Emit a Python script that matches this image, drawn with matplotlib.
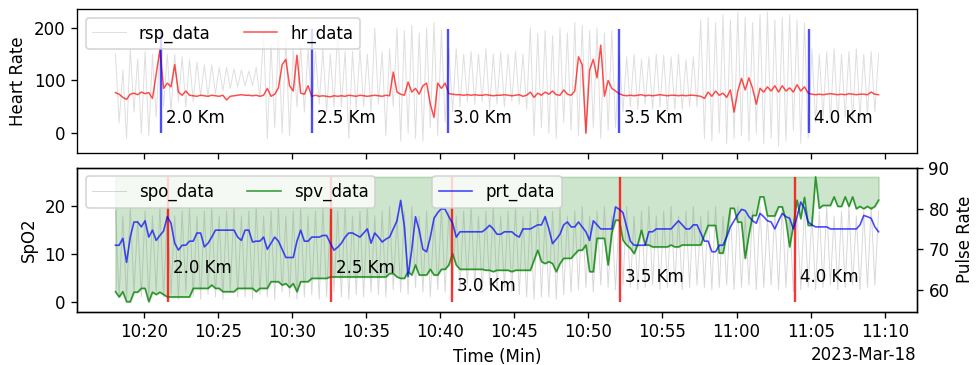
import matplotlib
matplotlib.use('Agg')
import matplotlib.pyplot as plt
import matplotlib.dates as mdates
import pandas as pd

# samples every 15 s, one row per minute (10:18 ... 11:09)
start_time = '2023-03-18 10:18:05'

hr_data = [
    77, 74, 68, 64,  74, 76, 73, 78,  75, 77, 66, 112,  158, 85, 95, 88,
    130, 78, 72, 80,  72, 71, 70, 72,  71, 70, 72, 71,  70, 72, 63, 70,
    71, 72, 73, 72,  72, 71, 72, 70,  72, 85, 70, 74,  86, 130, 140, 90,
    80, 148, 76, 74,  90, 70, 72, 70,  71, 70, 69, 71,  70, 71, 70, 72,
    71, 70, 72, 71,  70, 71, 72, 71,  70, 72, 71, 116,  78, 74, 72, 97,
    78, 85, 74, 90,  95, 55, 30, 95,  85, 95, 75, 74,  73, 73, 72, 73,
    72, 73, 72, 72,  73, 72, 71, 72,  72, 73, 72, 71,  72, 73, 70, 72,
    78, 68, 76, 72,  78, 74, 80, 73,  72, 82, 74, 72,  80, 145, 130, 0,
    120, 140, 105, 167,  70, 100, 85, 80,  75, 72, 71, 72,  71, 72, 73, 71,
    72, 71, 72, 73,  72, 71, 72, 72,  71, 72, 71, 72,  72, 71, 70, 66,
    78, 70, 80, 72,  76, 68, 82, 40,  80, 104, 82, 105,  85, 55, 85, 78,
    88, 80, 90, 78,  90, 80, 86, 78,  92, 80, 88, 76,  74, 73, 74, 73,
    74, 75, 74, 73,  74, 73, 75, 74,  73, 74, 74, 73,  78, 74, 73,
]

rsp_data = [
    150, 20, 120, -10,  160, 40, 140, 0,  155, -5, 150, 30,  165, 50, 150, 40,
    150, 60, 145, 50,  140, 60, 135, 70,  130, 70, 130, 75,  125, 80, 125, 85,
    122, 88, 120, 90,  118, 90, 125, 70,  190, -10, 170, 10,  185, 0, 180, -5,
    160, 50, 165, 40,  160, 45, 155, 55,  160, 40, 150, 50,  200, 50, 155, -10,
    155, 45, 160, 50,  150, 40, 200, 55,  155, -5, 160, 50,  200, -15, 195, 0,
    205, -10, 190, -15,  200, 10, 210, -5,  195, 20, 160, 40,  160, 50, 150, 60,
    155, 55, 150, 60,  160, 45, 150, 55,  155, 50, 150, 60,  155, 55, 150, 45,
    200, -5, 190, 10,  195, 0, 185, -10,  200, 20, 190, 5,  210, -5, 205, 0,
    195, 10, 200, -10,  190, 5, 195, 10,  150, 40, 145, 50,  150, 45, 140, 55,
    145, 45, 150, 50,  148, 40, 145, 45,  150, 45, 140, 50,  145, 50, 215, -10,
    220, -15, 210, 0,  225, -20, 215, -10,  230, -5, 220, -15,  210, 0, 225, -20,
    230, -10, 215, -25,  220, -15, 225, 5,  215, -20, 210, -10,  160, 20, 150, 30,
    155, 25, 160, 20,  150, 30, 155, 25,  160, 30, 150, 35,  155, 40, 150,
]

spo_data = [
    19, 1, 18, 0.5,  20, 2, 17, 1,  19, 0.5, 18, 2,  20, 1, 19, 1.5,
    18, 0.5, 19, 2,  20, 1, 18, 0.5,  19, 1.5, 20, 1,  18, 0.5, 19, 2,
    20, 1, 18, 1,  19, 0.5, 20, 1.5,  18, 1, 19, 0.5,  20, 2, 18, 1,
    19, 0.5, 20, 1,  18, 1.5, 19, 0.5,  20, 1, 18, 2,  19, 1, 20, 0.5,
    18, 1.5, 19, 1,  20, 2, 18, 1.5,  19, 1, 20, 2.5,  18, 2, 19, 1.5,
    20, 3, 18, 2,  19, 1, 18, 2.5,  20, 2, 19, 3,  18, 2.5, 19, 3.5,
    20, 3, 18, 2,  19, 3.5, 20, 2.5,  18, 3, 19, 2,  20, 1.5, 18, 1,
    19, 0.5, 20, 1,  18, 1, 19, 0.5,  20, 1.5, 18, 2,  19, 2.5, 20, 3,
    18, 2, 19, 3.5,  20, 3, 18, 2.5,  19, 3.5, 20, 3,  18, 2.5, 19, 3,
    20, 3.5, 18, 2.5,  19, 3, 20, 3.5,  18, 2.5, 19, 3,  20, 3.5, 18, 3,
    19, 2.5, 20, 3,  18, 3.5, 19, 2.5,  20, 3, 18, 3.5,  19, 2.5, 20, 3,
    18, 3.5, 19, 2.5,  20, 3, 18, 2,  19, 2.5, 20, 3,  18, 2.5, 19, 3,
    20, 3.5, 18, 2.5,  19, 3, 20, 3.5,  18, 2.5, 19, 3,  20, 3.5, 19,
]

spv_data = [
    2.1, 1, 2.1, 0,  0, 2, 2, 2.8,  2.8, 0, 2, 1.5,  2, 1.5, 1, 1,
    1, 1, 1, 1,  1, 2.8, 2.8, 2.8,  2.8, 2.8, 3.5, 2.8,  2.8, 2.1, 2.1, 2.1,
    2.1, 2.8, 2.8, 2.8,  2.8, 2.8, 2.1, 2.8,  2.8, 2.8, 4.2, 4.2,  4.2, 3.5, 3.8, 3,
    3.8, 2.1, 4.2, 4.2,  4.2, 4.9, 4.9, 4.9,  4.9, 4.9, 5.2, 5.2,  5.2, 5.2, 5.2, 5.2,
    5.2, 5.2, 5.2, 5.2,  5.2, 5.2, 5.2, 5.2,  5.2, 5.2, 5.9, 5.9,  5.2, 4.9, 4.9, 6.3,
    5.6, 7.7, 5.6, 5.6,  5.6, 6.8, 5.6, 5.6,  6.8, 6.8, 7.7, 10.1,  7.7, 6.8, 6.8, 6.8,
    6.8, 6.8, 6.8, 6.8,  6.6, 6.6, 6.3, 6.6,  6.6, 6.6, 6.6, 6.3,  6.6, 6.6, 6.6, 6.6,
    6.6, 8.7, 10.8, 8.4,  8, 8.4, 8, 6.3,  8, 9.1, 9.1, 9.1,  10, 10.8, 10.8, 11.9,
    6.3, 6.3, 13.3, 13.3,  13.3, 7.7, 14.5, 17.1,  17.1, 12.9, 11.9, 11.2,  10.1, 12, 15, 11.9,
    11.9, 11.5, 11.5, 11.5,  11.5, 11.5, 11.9, 11.5,  11.5, 11.9, 11.9, 11.9,  11.9, 11.9, 11.9, 14,
    16, 16, 16, 10.2,  10.2, 14, 19.6, 19.6,  16.7, 16.7, 9.1, 14,  18.1, 18.1, 22, 22,
    18, 18, 18, 19.9,  19.9, 17, 11.5, 16,  21.3, 17.4, 21.9, 16,  16, 26.2, 19.6, 20.2,
    20.2, 20.2, 22, 20,  20, 22, 20, 22,  19.5, 20, 19.5, 20,  19.5, 20, 21.3,
]

prt_data = [
    71, 71, 72.7, 66.8,  73, 76.7, 76.7, 75.5,  77, 73, 74.7, 72.2,  73.4, 74.5, 78, 76.4,
    71.5, 69.8, 71, 71,  72, 72, 74, 74,  70.6, 71.5, 73, 74.7,  74.7, 74.7, 74.7, 74.7,
    74.7, 73, 72.2, 74.7,  74.7, 71.8, 72, 72,  73, 70, 71.5, 73,  72, 70, 68, 68,
    68, 72, 74.7, 72,  72, 73, 73, 73,  73.4, 73.4, 71.5, 69.8,  70.5, 71.5, 73, 74,
    74, 73.5, 73, 74,  75, 71.5, 74, 73,  71.8, 72.5, 73, 75,  77, 82, 75.5, 63.3,
    70, 78, 74.7, 70,  69.4, 73, 77.6, 79,  80, 79.8, 78, 76.4,  73, 74.3, 74.3, 74.3,
    74.3, 74.3, 74.3, 74.3,  75, 75.9, 75, 73.7,  73.7, 74.3, 74.3, 74.3,  73.5, 73, 75, 75,
    75, 75.5, 76, 76,  78, 75, 71.4, 72.5,  73.7, 76, 76.7, 75.5,  75.5, 76.7, 75.5, 74.3,
    72.2, 77, 76, 75,  75, 75, 75, 80.4,  79.8, 79, 75.5, 72,  71, 71, 71, 71,
    74.3, 74.3, 75, 75,  75, 75, 75, 76,  77, 76, 75, 75,  76, 76, 74, 72,
    72, 69.4, 69.4, 71,  71, 73, 75.5, 77,  78.5, 79.8, 79.5, 78,  77, 76.4, 78.8, 78,
    77, 76.7, 75, 77,  78.8, 78, 77.6, 75,  78, 81.6, 80, 76.7,  76, 75.5, 75.5, 75.5,
    75.5, 75, 75, 75,  75, 75, 75, 75,  75, 76, 78.3, 78,  77.6, 75.5, 74.3,
]

km_labels = ['2.0 Km', '2.5 Km', '3.0 Km', '3.5 Km', '4.0 Km']
hr_km_times = pd.to_datetime(['2023-03-18 10:21:10', '2023-03-18 10:31:21', '2023-03-18 10:40:33',
                              '2023-03-18 10:52:04', '2023-03-18 11:04:52'])
spo_km_times = pd.to_datetime(['2023-03-18 10:21:38', '2023-03-18 10:32:38', '2023-03-18 10:40:47',
                               '2023-03-18 10:52:10', '2023-03-18 11:03:55'])
spo_label_y = [7.1, 7.1, 3.3, 5.2, 5.2]

time = pd.date_range(start_time, periods=len(hr_data), freq='15s')

fig, (ax1, ax3) = plt.subplots(2, 1, sharex=True, figsize=(977 / 120, 365 / 120), dpi=120)
fig.subplots_adjust(left=0.0791, right=0.9383, top=0.9745, bottom=0.146, hspace=0.101)

# heart rate
ax1.plot(time, rsp_data, color='gray', alpha=0.25, lw=0.6, label='rsp_data')
ax1.plot(time, hr_data, color='red', alpha=0.7, lw=0.9, label='hr_data')
ax1.vlines(hr_km_times, 0, 198, color='blue', alpha=0.7, lw=1.4)
for t, s in zip(hr_km_times, km_labels):
    ax1.annotate(s, (mdates.date2num(t), 29), xytext=(3, 0), textcoords='offset points', va='center')
ax1.set_ylim(-38, 235)
ax1.set_ylabel('Heart Rate')
ax1.legend(loc='upper left', ncol=2)

# spo2 + pulse rate
spv_top = max(spv_data)
ax3.fill_between(time, spv_data, spv_top, color='green', alpha=0.2)
ax3.plot(time, spo_data, color='gray', alpha=0.3, lw=0.6, label='spo_data')
ax3.plot(time, spv_data, color='green', alpha=0.75, lw=1, label='spv_data')
ax3.vlines(spo_km_times, 0, spv_top, color='red', alpha=0.8, lw=1.4)
for t, s, yy in zip(spo_km_times, km_labels, spo_label_y):
    ax3.annotate(s, (mdates.date2num(t), yy), xytext=(3, 0), textcoords='offset points', va='center')
ax3.set_ylim(-2.1, 28.1)
ax3.set_ylabel('SpO2')
ax3.set_xlabel('Time (Min)')
ax3.legend(loc='upper left', ncol=2)

ax4 = ax3.twinx()
ax4.plot(time, prt_data, color='blue', alpha=0.7, lw=1, label='prt_data')
ax4.set_ylim(54.7, 90)
ax4.set_ylabel('Pulse Rate')
ax4.legend(loc='upper center')

locator = mdates.MinuteLocator(byminute=range(0, 60, 5))
ax3.xaxis.set_major_locator(locator)
ax3.xaxis.set_major_formatter(mdates.ConciseDateFormatter(locator))

plt.savefig('out.png', dpi=120)
